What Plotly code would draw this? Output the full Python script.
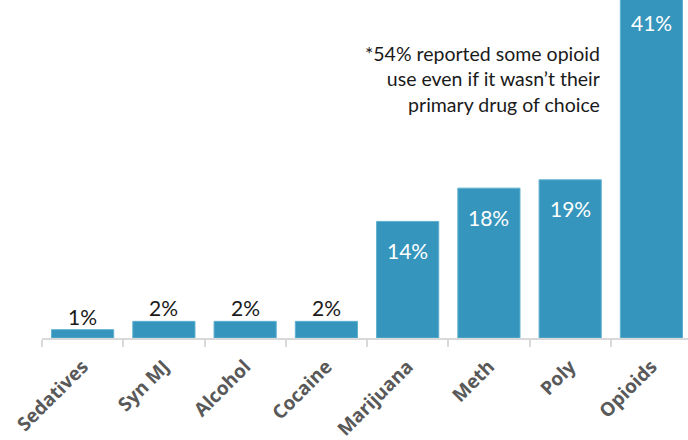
import plotly.graph_objects as go

categories = ["Sedatives", "Syn MJ", "Alcohol", "Cocaine", "Marijuana", "Meth", "Poly", "Opioids"]
values = [1, 2, 2, 2, 14, 18, 19, 41]
value_labels = ["1%", "2%", "2%", "2%", "14%", "18%", "19%", "41%"]
note_lines = ["*54% reported some opioid", "use even if it wasn\u2019t their", "primary drug of choice"]

BAR = "#3595BC"
YMAX = 40.6

fig = go.Figure()
fig.add_trace(go.Bar(
    x=categories, y=values, marker=dict(color=BAR, line=dict(color="#5fb0d0", width=1)),
    hoverinfo="skip", cliponaxis=True,
))

annotations = []
for c, v, t in zip(categories, values, value_labels):
    if v < 5:
        annotations.append(dict(x=c, y=v, xref="x", yref="y", text=t, showarrow=False,
                                yanchor="bottom", yshift=-1,
                                font=dict(family="Lato", size=21, color="#1a1a1a")))
    else:
        vy = min(v, YMAX - 0.01)
        shift = -29 if v < YMAX else -22
        annotations.append(dict(x=c, y=vy, xref="x", yref="y", text=t, showarrow=False,
                                yanchor="middle", yshift=shift,
                                font=dict(family="Lato", size=21, color="white")))

W, H = 688, 440
L, B = 41.5, 102
annotations.append(dict(x=(602 - L) / (W - L), y=(H - 79 - B) / (H - B), xref="paper", yref="paper",
                        text="<br>".join(note_lines),
                        showarrow=False, xanchor="right", yanchor="middle", align="right",
                        font=dict(family="Lato", size=19.5, color="#1a1a1a")))

ncat = len(categories)
fig.update_layout(
    width=W, height=H,
    margin=dict(l=L, r=0, t=0, b=B, pad=0, autoexpand=False),
    plot_bgcolor="white", paper_bgcolor="white",
    showlegend=False, bargap=0.235,
    annotations=annotations,
    xaxis=dict(
        type="category", range=[-0.5, ncat - 0.55], showgrid=False, automargin=False,
        showline=True, linecolor="#d9d9d9", linewidth=2,
        ticks="outside", tickson="boundaries", ticklen=7, tickcolor="#d9d9d9", tickwidth=2,
        ticklabelstandoff=8,
        tickangle=-45, tickfont=dict(family="Open Sans", size=19, color="#595959", weight="bold"),
    ),
    yaxis=dict(range=[0, YMAX], visible=False, showgrid=False, zeroline=False, automargin=False),
)

fig.write_html("out.html", config={"displayModeBar": False},
               post_script="document.body.style.margin='0';")
